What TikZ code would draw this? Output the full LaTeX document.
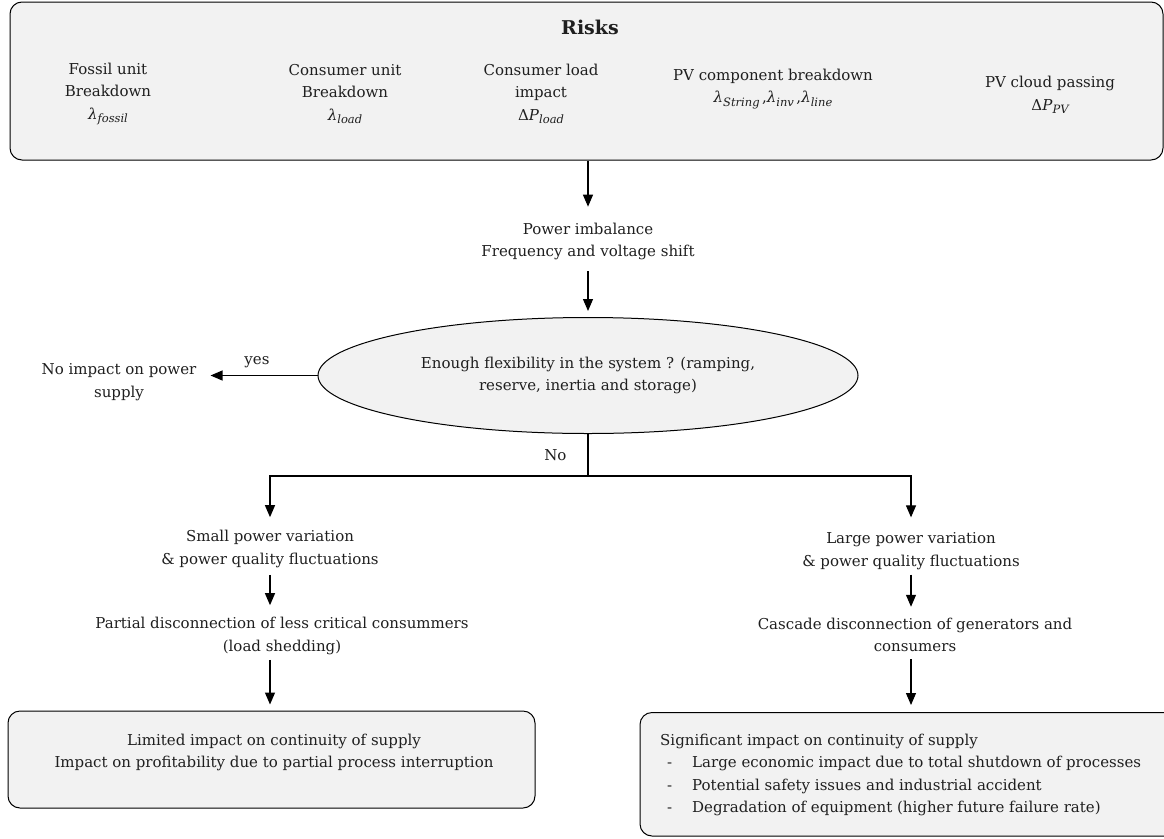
\documentclass[tikz,border=0pt]{standalone}
\usepackage{fontspec}
\setmainfont{DejaVu Serif}
\usetikzlibrary{arrows.meta,shapes.geometric,positioning}

\definecolor{rkFill}{HTML}{F2F2F2}
\definecolor{rkText}{HTML}{1F1F1F}

% risk variable: symbol with italic subscript
\newcommand{\riskvar}[2]{#1\raisebox{-3.5pt}{\fontsize{11.5}{11.5}\selectfont\itshape #2}}

\tikzset{
  txt/.style={text=rkText, font=\fontsize{15}{22.5}\selectfont, align=center, inner sep=0pt},
  panel/.style={draw, fill=rkFill, rounded corners=12pt, line width=1pt},
  decide/.style={ellipse, draw, fill=rkFill, line width=1pt, inner sep=0pt},
  arr/.style={-{Triangle[length=12pt,width=10pt]}, line width=1.2pt},
  wire/.style={line width=1.2pt}
}

\begin{document}
\begin{tikzpicture}[x=1pt,y=-1pt]
  \useasboundingbox (0,0) rectangle (1164,838);

  % Risks
  \node[panel, minimum width=1153pt, minimum height=158pt] (risks) at (586.5,81) {};
  \node[txt, font=\fontsize{19}{22}\selectfont\bfseries] (title) at (590,27) {Risks};
  \node[txt] (fossil) at (108,94) {Fossil unit\\Breakdown\\\riskvar{\textit{λ}}{fossil}};
  \node[txt] (cunit) at (345,94) {Consumer unit\\Breakdown\\\riskvar{\textit{λ}}{load}};
  \node[txt] (cload) at (541,94) {Consumer load\\impact\\\riskvar{Δ\textit{P}}{load}};
  \node[txt] (pvcomp) at (773,89) {PV component breakdown\\\riskvar{\textit{λ}}{String}\,,\riskvar{\textit{λ}}{inv}\,,\riskvar{\textit{λ}}{line}};
  \node[txt] (pvcloud) at (1050,95) {PV cloud passing\\\riskvar{Δ\textit{P}}{PV}};

  % Imbalance and decision
  \node[txt] (imb) at (588,241.5) {Power imbalance\\Frequency and voltage shift};
  \node[decide, txt, draw, fill=rkFill, minimum width=540pt, minimum height=116pt] (flex) at (588,375.5)
    {Enough flexibility in the system ? (ramping,\\reserve, inertia and storage)};
  \node[txt] (noimp) at (119,382) {No impact on power\\supply};

  \draw[arr, shorten >=16pt] (risks.south -| imb.north) -- (imb.north);
  \draw[arr, shorten <=11pt, shorten >=6pt] (imb.south) -- (flex.north);
  \draw[arr, shorten >=14pt] (flex.west) -- (flex.west -| noimp.east)
    node[txt, midway, above=7pt] (yes) {yes};

  % No branch
  \coordinate (split) at (588,476);
  \draw[wire] (flex.south) -- (split) node[txt, midway, left=21pt] (no) {No};

  % small variation
  \node[txt] (small) at (270,549) {Small power variation\\\& power quality fluctuations};
  \node[txt] (partial) at (282,636) {Partial disconnection of less critical consummers\\(load shedding)};
  \node[panel, minimum width=527pt, minimum height=97pt] (limbox) at (271.5,759.5) {};
  \node[txt] (limited) at (274,752.5) {Limited impact on continuity of supply\\Impact on profitability due to partial process interruption};

  \draw[arr, shorten >=13pt] (split) -| (small.north);
  \draw[arr, shorten <=7pt, shorten >=12pt] (small.south) -- (small.south |- partial.north);
  \draw[arr, shorten <=5pt, shorten >=6pt] (small.south |- partial.south) -- (small.south |- limbox.north);

  % large variation
  \node[txt] (large) at (911,551) {Large power variation\\\& power quality fluctuations};
  \node[txt] (cascade) at (915,635) {Cascade disconnection of generators and\\consumers};
  \node[panel, minimum width=540pt, minimum height=123.5pt] (sigbox) at (910,774.25) {};
  \node[txt, align=left, anchor=north west] (signif) at (660,733.5)
    {Significant impact on continuity of supply\\
     \hspace*{7pt}\makebox[25pt][l]{-}Large economic impact due to total shutdown of processes\\
     \hspace*{7pt}\makebox[25pt][l]{-}Potential safety issues and industrial accident\\
     \hspace*{7pt}\makebox[25pt][l]{-}Degradation of equipment (higher future failure rate)};

  \draw[arr, shorten >=15pt] (split) -| (large.north);
  \draw[arr, shorten <=5pt, shorten >=11pt] (large.south) -- (large.south |- cascade.north);
  \draw[arr, shorten <=7pt, shorten >=7pt] (large.south |- cascade.south) -- (large.south |- sigbox.north);
\end{tikzpicture}
\end{document}
